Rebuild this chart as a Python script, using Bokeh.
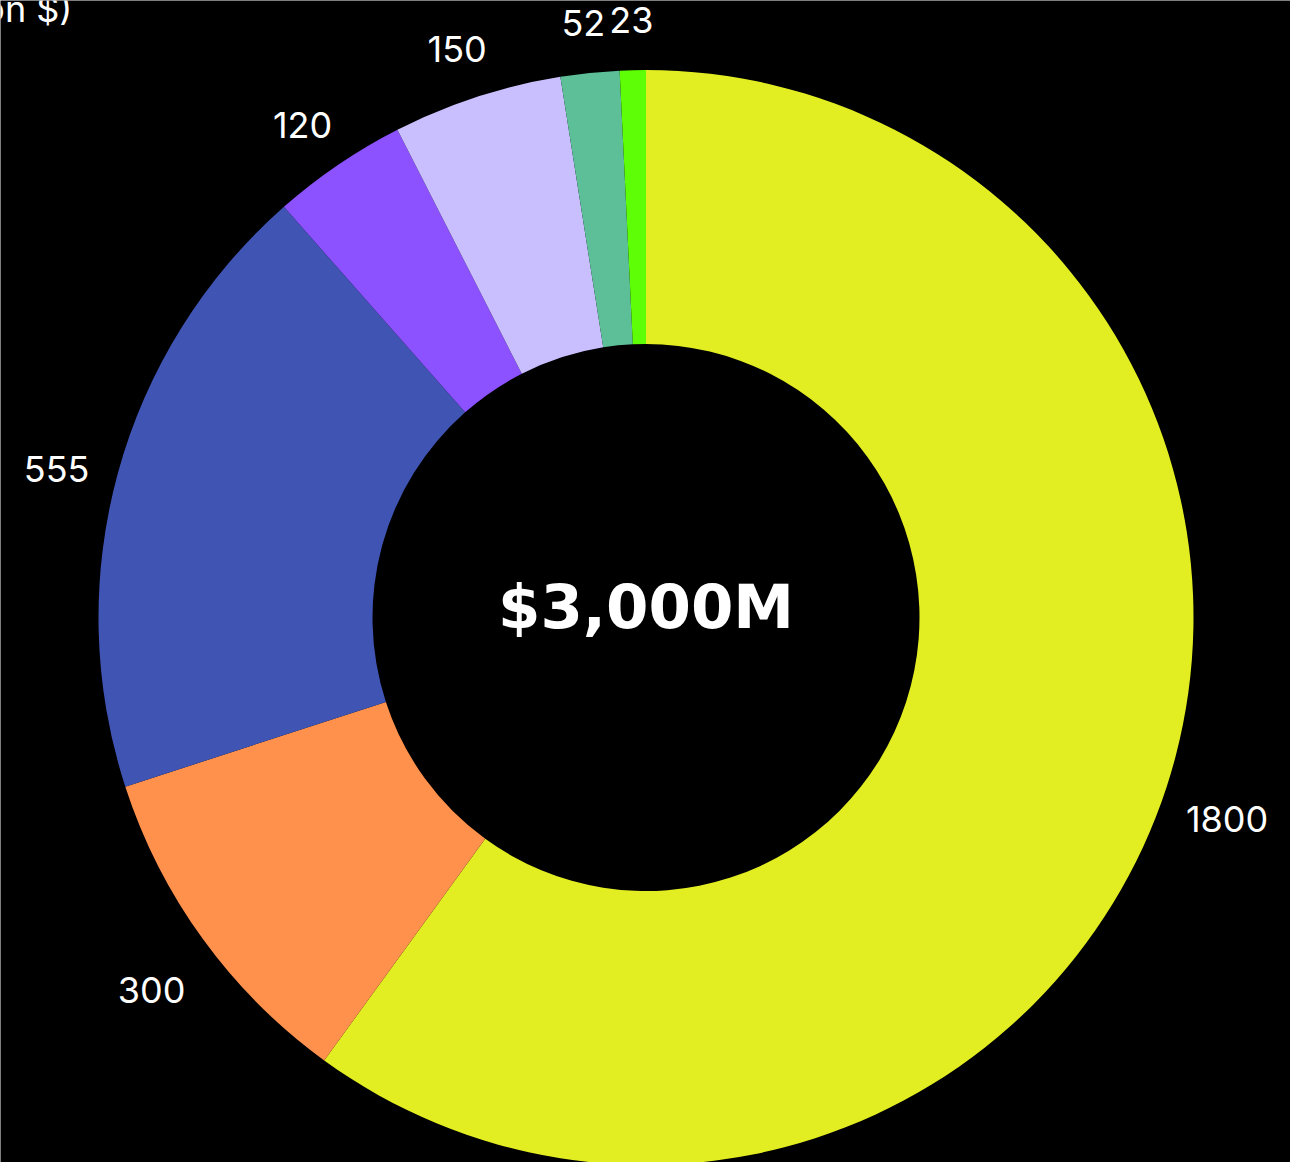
import numpy as np
from bokeh.plotting import figure
from bokeh.models import Range1d, ColumnDataSource, Label
from bokeh.core.properties import value
from bokeh.embed import file_html
from bokeh.resources import INLINE

# Data
labels = ["1800", "300", "555", "120", "150", "52", "23"]
values = [1800, 300, 555, 120, 150, 52, 23]
colors = ["#E2EE22", "#FF914D", "#4054B4", "#8C52FF", "#C9BFFF", "#5CBF98", "#5EFF06"]
center_text = "$3,000M"
title_text = "(in million $)"

W, H = 1290, 1162
cx_px, cy_px = 645.5, 617.0
R_OUT, R_IN, R_LAB = 547.5, 273.5, 611.0

vals = np.array(values, dtype=float)
total = vals.sum()
cum = np.concatenate([[0], np.cumsum(vals)])
start = np.pi / 2 - cum[:-1] / total * 2 * np.pi
end = np.pi / 2 - cum[1:] / total * 2 * np.pi
mid = (start + end) / 2

src = ColumnDataSource(dict(
    start=start, end=end, color=colors,
    lx=R_LAB * np.cos(mid), ly=R_LAB * np.sin(mid), label=labels,
))

p = figure(width=W, height=H, output_backend="svg", toolbar_location=None,
           x_range=Range1d(-cx_px, W - cx_px), y_range=Range1d(-(H - cy_px), cy_px),
           min_border=0, background_fill_color="black", border_fill_color="black")
p.axis.visible = False
p.grid.visible = False
p.outline_line_color = None

p.annular_wedge(x=0, y=0, inner_radius=R_IN, outer_radius=R_OUT,
                start_angle="start", end_angle="end", direction="clock",
                fill_color="color", line_color=None, source=src)

p.text(x="lx", y="ly", text="label", source=src, text_color="white",
       text_font=value("Inter"), text_font_size="36px",
       text_align="center", text_baseline="top")

p.text(x=[0], y=[11], text=[center_text], text_color="white",
       text_font=value("DejaVu Sans"), text_font_style="bold", text_font_size="61px",
       text_align="center", text_baseline="middle")

p.add_layout(Label(x=72, y=H - 8, x_units="screen", y_units="screen", text=title_text,
                   text_color="white", text_font="Inter", text_font_size="36px",
                   text_align="right", text_baseline="middle"))

open("out.html", "w").write(file_html(p, INLINE))
